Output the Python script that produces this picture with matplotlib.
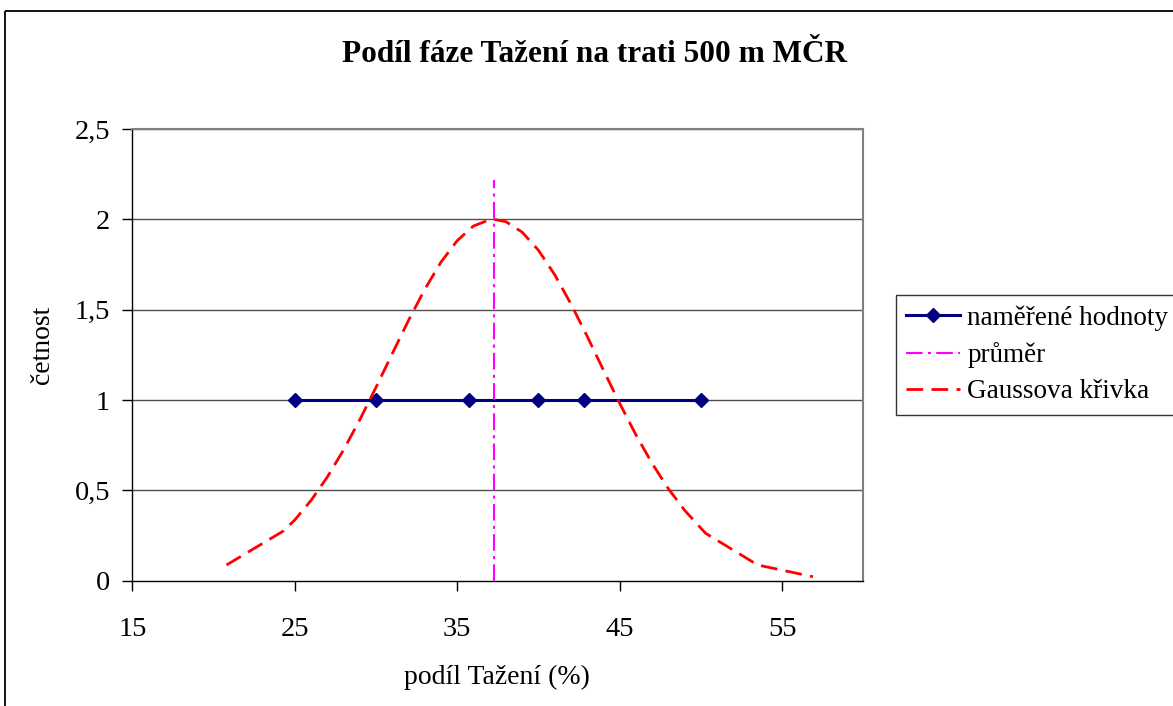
"""
Podíl fáze Tažení na trati 500 m MČR - četnost a Gaussova křivka
"""

import matplotlib.pyplot as plt
from matplotlib.patches import Rectangle

# naměřené hodnoty (podíl Tažení v %)
measured_x = [25.0, 30.0, 35.7, 40.0, 42.8, 50.0]
measured_y = [1, 1, 1, 1, 1, 1]

# průměr
mean_x = 37.26
mean_line_y = [0.0, 2.22]

# Gaussova křivka
gauss_x = [20.8, 24.3, 25, 26, 27, 28, 29, 30, 31, 32, 33, 34, 35, 36, 37, 37.26,
           38, 39, 40, 41, 42, 43, 44, 45, 46, 47, 48, 49, 50, 50.3, 53.5, 56.9]
gauss_y = [0.087, 0.275, 0.336, 0.444, 0.573, 0.723, 0.890, 1.070, 1.256, 1.440,
           1.612, 1.763, 1.882, 1.963, 1.998, 2.0, 1.987, 1.929, 1.829, 1.694,
           1.532, 1.353, 1.166, 0.982, 0.808, 0.649, 0.509, 0.390, 0.291, 0.262,
           0.087, 0.022]

x_ticks = [15, 25, 35, 45, 55]
y_ticks = [0, 0.5, 1, 1.5, 2, 2.5]
y_tick_labels = ["0", "0,5", "1", "1,5", "2", "2,5"]

W, H = 1173, 706


def main():
    plt.rcParams["font.family"] = ["Liberation Serif", "DejaVu Serif"]

    fig = plt.figure(figsize=(W / 100, H / 100), dpi=100)
    ax = fig.add_axes([132.3 / W, 1 - 580.7 / H, 731 / W, 451.7 / H])

    # outer chart border
    fig.patches.append(Rectangle((5 / W, 1 - 11 / H), 1.2, -1.2,
                                 transform=fig.transFigure, fill=False,
                                 edgecolor="black", linewidth=1.3))

    for y in y_ticks[1:]:
        ax.axhline(y, color="#505050", linewidth=1.0, zorder=1)

    ax.plot(measured_x, measured_y, color="#000080", linewidth=2.2,
            marker="D", markersize=7.6, label="naměřené hodnoty", zorder=3)
    ax.plot([mean_x, mean_x], mean_line_y, color="#FF00FF", linewidth=1.5,
            dashes=(8, 2.5, 1.5, 2.5), label="průměr", zorder=4, clip_on=False)
    ax.plot(gauss_x, gauss_y, color="#FF0000", linewidth=2.0,
            dashes=(6, 3), label="Gaussova křivka", zorder=5)

    ax.set_xlim(15, 60)
    ax.set_ylim(0, 2.5)
    ax.set_xticks(x_ticks)
    ax.set_yticks(y_ticks)
    ax.set_yticklabels(y_tick_labels)
    ax.tick_params(axis="both", direction="out", length=7, width=1,
                   labelsize=20.5, colors="black")
    ax.tick_params(axis="x", pad=19)
    ax.tick_params(axis="y", pad=9)

    for side in ["top", "right"]:
        ax.spines[side].set_color("#808080")
        ax.spines[side].set_linewidth(1.5)
    for side in ["left", "bottom"]:
        ax.spines[side].set_color("black")
        ax.spines[side].set_linewidth(1.0)

    fig.text(595 / W, 1 - 55 / H, "Podíl fáze Tažení na trati 500 m MČR",
             ha="center", va="center", fontsize=22.5, fontweight="bold")
    fig.text(497 / W, 1 - 677 / H, "podíl Tažení (%)", ha="center",
             va="center", fontsize=20)
    fig.text(42 / W, 1 - 345 / H, "četnost", ha="center", va="center",
             rotation=90, fontsize=20)

    leg = fig.legend(loc="upper left", bbox_to_anchor=(896 / W, 1 - 295 / H),
                     fontsize=19.5, frameon=True, fancybox=False, shadow=False,
                     handlelength=2.0, handletextpad=0.25, borderaxespad=0,
                     labelspacing=0.42, borderpad=0.38)
    leg.get_frame().set_edgecolor("black")
    leg.get_frame().set_linewidth(1.0)

    fig.savefig("out.png", dpi=100)
    plt.close(fig)


if __name__ == "__main__":
    main()
